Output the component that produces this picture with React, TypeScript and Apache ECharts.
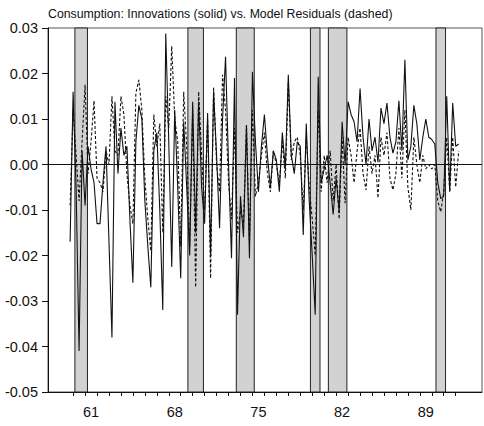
import React, { useEffect, useRef } from "react";
import * as echarts from "echarts";

const TITLE = "Consumption: Innovations (solid) vs. Model Residuals (dashed)";

// quarterly observations, first one is 1959 Q4
const START_YEAR = 1959.75;
const QUARTER = 0.25;

// Innovations (solid line)
const innovations = [
  -0.017, 0.016, -0.005, -0.041, 0.003, -0.009, 0.004, -0.001, -0.004, -0.013,
  -0.013, -0.004, 0.004, -0.017, -0.038, 0.0138, -0.002, 0.008, 0.002, 0.004,
  -0.012, -0.026, 0.005, 0.013, 0.01, -0.008, -0.018, -0.027, 0.003, 0.007,
  -0.01, -0.032, 0.0288, 0.005, -0.0225, 0.012, -0.005, -0.025, 0.0094, -0.005,
  -0.02, 0.0138, -0.015, 0.0138, -0.005, -0.013, 0.0113, -0.02, 0.016, 0.002,
  -0.014, 0.01, 0.0237, 0.0, -0.0206, 0.019, -0.033, -0.007, -0.016, 0.0087,
  -0.0206, 0.0204, 0.005, -0.006, 0.004, 0.011, 0.002, -0.005, 0.003, 0.001,
  -0.006, 0.007, -0.001, 0.0197, 0.002, -0.002, 0.005, 0.004, -0.0155, 0.009,
  -0.008, -0.02, -0.033, 0.0193, -0.004, -0.001, 0.002, -0.004, -0.011, -0.003,
  -0.0104, 0.0094, 0.0, 0.0138, 0.011, 0.0094, 0.005, 0.0167, 0.006, 0.0,
  0.01, 0.003, 0.006, 0.0005, 0.0124, 0.009, 0.0135, 0.006, 0.0025, 0.005,
  0.014, 0.003, 0.023, 0.001, 0.004, 0.013, 0.009, 0.001, 0.006, 0.01,
  0.006, 0.0055, 0.0045, -0.004, -0.0075, -0.007, 0.015, -0.006, 0.0135, 0.004,
  0.0045,
];

// Model residuals (dashed line)
const residuals = [
  -0.009, 0.012, 0.002, -0.008, 0.005, 0.0175, -0.002, 0.005, 0.014, -0.003,
  -0.004, -0.006, 0.003, 0.0, 0.015, 0.003, 0.002, 0.015, 0.011, -0.002,
  -0.009, -0.013, 0.0157, 0.0186, 0.012, -0.003, -0.012, -0.019, 0.011, 0.004,
  0.009, -0.015, 0.015, 0.008, 0.026, 0.01, 0.005, -0.018, 0.016, 0.004,
  -0.018, 0.012, -0.027, 0.016, 0.002, -0.01, 0.01, -0.025, 0.017, 0.0,
  -0.006, 0.0197, 0.012, -0.004, -0.012, 0.008, -0.015, -0.01, -0.013, 0.0087,
  -0.017, 0.012, -0.007, -0.004, 0.002, 0.007, -0.002, -0.006, 0.003, 0.0,
  -0.004, 0.005, -0.003, 0.018, 0.001, 0.005, 0.006, 0.002, -0.01, 0.006,
  -0.005, -0.012, -0.02, 0.012, -0.006, 0.002, -0.004, 0.003, -0.008, 0.0,
  -0.012, 0.006, -0.0085, 0.006, 0.002, -0.004, 0.003, 0.008, -0.002, -0.0056,
  0.004, -0.002, 0.002, -0.0074, 0.006, 0.002, 0.007, -0.003, -0.0056, -0.002,
  0.008, -0.003, 0.012, -0.005, -0.01, 0.006, 0.0, -0.004, 0.002, -0.001,
  0.0, -0.001, 0.0, -0.008, -0.0104, -0.006, 0.006, -0.006, 0.006, -0.005,
  0.003,
];

// shaded recession periods [start, end] in years
const recessions: [number, number][] = [
  [1960.15, 1961.2],
  [1969.6, 1970.9],
  [1973.65, 1975.15],
  [1979.85, 1980.65],
  [1981.35, 1982.9],
  [1990.35, 1991.15],
];

const tickYears = [
  1960, 1961, 1962, 1963, 1964, 1965, 1966, 1967, 1968, 1969, 1970,
  1971, 1972, 1973, 1974, 1975, 1976, 1977, 1978, 1979, 1980, 1981,
  1982, 1983, 1984, 1985, 1986, 1987, 1988, 1989, 1990, 1991, 1992,
];
const labelYears = [1961, 1968, 1975, 1982, 1989];

const FONT = "'Liberation Sans', Arial, Helvetica, sans-serif";

export default function App() {
  const ref = useRef<HTMLDivElement>(null);

  useEffect(() => {
    if (!ref.current) return;
    const chart = echarts.init(ref.current, undefined, { renderer: "svg" });
    const toPairs = (arr: number[]) =>
      arr.map((v, i) => [START_YEAR + i * QUARTER, v]);

    chart.setOption({
      animation: false,
      backgroundColor: "#ffffff",
      title: {
        text: TITLE,
        left: 43,
        top: 3,
        textStyle: {
          fontFamily: FONT,
          fontSize: 12.3,
          fontWeight: "normal",
          color: "#111",
        },
      },
      grid: {
        left: 48,
        top: 28,
        width: 434,
        height: 364,
        show: true,
        borderColor: "#555",
        borderWidth: 1,
      },
      xAxis: {
        type: "value",
        min: 1957.9,
        max: 1994.2,
        axisLine: { show: true, onZero: false, lineStyle: { color: "#111", width: 1 } },
        axisTick: {
          show: true,
          customValues: tickYears,
          length: 4,
          lineStyle: { color: "#111" },
        },
        axisLabel: {
          customValues: labelYears.map((y) => y + 0.5),
          formatter: (v: number) => String(Math.floor(v) % 100),
          margin: 12,
          fontSize: 14.5,
          fontFamily: FONT,
          color: "#111",
        },
        splitLine: { show: false },
      },
      yAxis: {
        type: "value",
        min: -0.05,
        max: 0.03,
        interval: 0.01,
        axisLine: { show: true, lineStyle: { color: "#111", width: 1 } },
        axisTick: { show: true, length: 6, lineStyle: { color: "#111" } },
        axisLabel: {
          formatter: (v: number) => v.toFixed(2),
          margin: 10,
          fontSize: 14.5,
          fontFamily: FONT,
          color: "#111",
        },
        splitLine: { show: false },
      },
      series: [
        {
          name: "Innovations",
          type: "line",
          data: toPairs(innovations),
          symbol: "none",
          lineStyle: { color: "#111", width: 1.1 },
          z: 3,
          markArea: {
            silent: true,
            itemStyle: { color: "#d2d2d2", borderColor: "#222", borderWidth: 1 },
            data: recessions.map(([a, b]) => [{ xAxis: a }, { xAxis: b }]),
          },
          markLine: {
            silent: true,
            symbol: "none",
            label: { show: false },
            lineStyle: { color: "#111", width: 1, type: "solid" },
            data: [{ yAxis: 0 }],
          },
        },
        {
          name: "Residuals",
          type: "line",
          data: toPairs(residuals),
          symbol: "none",
          lineStyle: { color: "#111", width: 1.1, type: [3, 2] },
          z: 3,
        },
      ],
    });

    return () => chart.dispose();
  }, []);

  return (
    <div
      ref={ref}
      style={{ position: "absolute", left: 0, top: 0, width: 484, height: 426 }}
    />
  );
}
